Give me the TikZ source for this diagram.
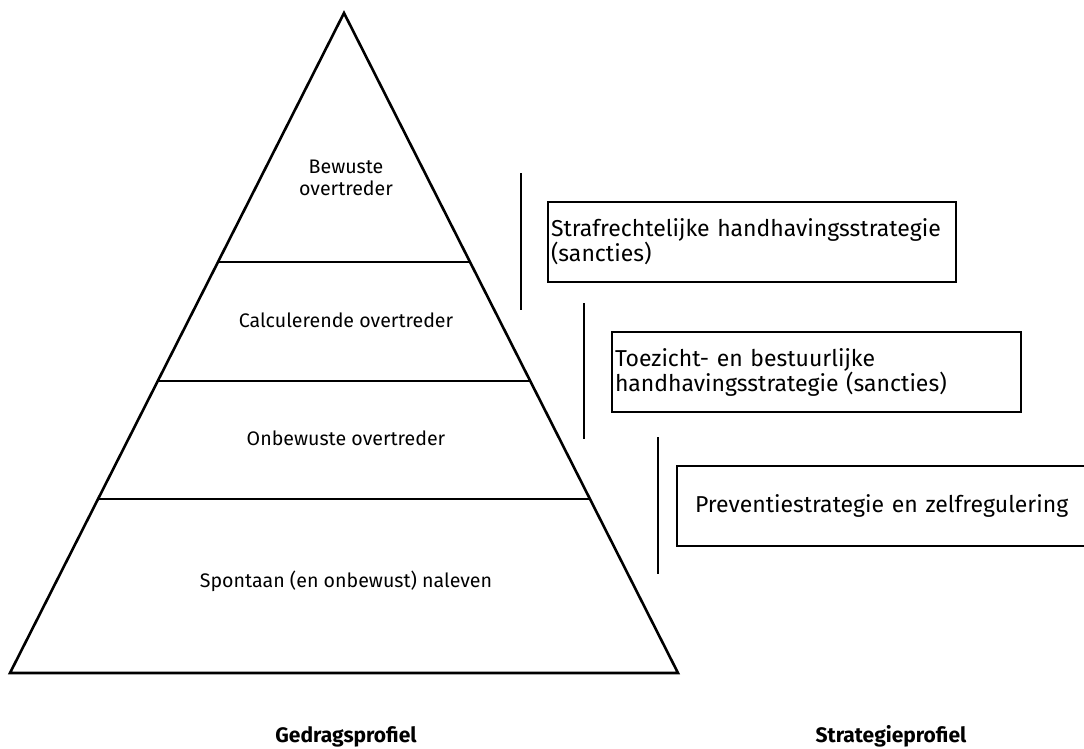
\documentclass[tikz,border=0pt]{standalone}
\usepackage{fontspec}
\setmainfont{Fira Sans}
\usetikzlibrary{
    calc,
    positioning
}
\tikzset{
    every picture/.style = {
        x = 1pt,
        y = -1pt,
        line width = 2.6pt
    },
    every node/.style = {
        inner sep = 0pt,
        outer sep = 0pt
    },
    layer/.style = {
        font = \fontsize{19.6}{22}\selectfont,
        align = center
    },
    stratbox/.style = {
        draw,
        anchor = north west,
        align = left,
        font = \fontsize{23}{25}\selectfont
    },
    profile/.style = {
        anchor = base,
        font = \fontsize{21}{24}\selectfont\bfseries
    }
}

\begin{document}
\begin{tikzpicture}
    \useasboundingbox (0,0) rectangle (1084,749);
    % pyramid
    \coordinate (top) at (344,13);
    \coordinate (bl) at (10,673);
    \coordinate (br) at (678,673);
    \draw[line join=miter] (bl) -- (top) -- (br) -- cycle;
    \foreach \y in {262,381,499} {
        \draw ($(top)!{(\y-13)/660}!(bl)$) -- ($(top)!{(\y-13)/660}!(br)$);
    }
    \node[layer] (bewust) at (346,178) {Bewuste\\overtreder};
    \node[layer, anchor=base] (calc) at (346,327) {Calculerende overtreder};
    \node[layer, anchor=base] (onbewust) at (346,445) {Onbewuste overtreder};
    \node[layer, anchor=base] (spontaan) at (346,587) {Spontaan (en onbewust) naleven};
    % strategies
    \foreach \x/\ya/\yb in {521/173/310, 584/303/439, 658/437/574} {
        \draw (\x,\ya) -- (\x,\yb);
    }
    \node[stratbox, minimum width=408, minimum height=80, text width=402, inner xsep=3]
        (straf) at (548,202) {Strafrechtelijke handhavingsstrategie\\(sancties)};
    \node[stratbox, minimum width=409, minimum height=80, text width=403, inner xsep=3]
        (toezicht) at (612,332) {Toezicht- en bestuurlijke\\handhavingsstrategie (sancties)};
    \node[stratbox, minimum width=420, minimum height=80, text width=384, inner xsep=18]
        (preventie) at (677,466) {Preventiestrategie en zelfregulering};
    % profiles
    \node[profile] (gedrag) at (346,742) {Gedragsprofiel};
    \node[profile] (strategie) at (891,742) {Strategieprofiel};
\end{tikzpicture}
\end{document}
